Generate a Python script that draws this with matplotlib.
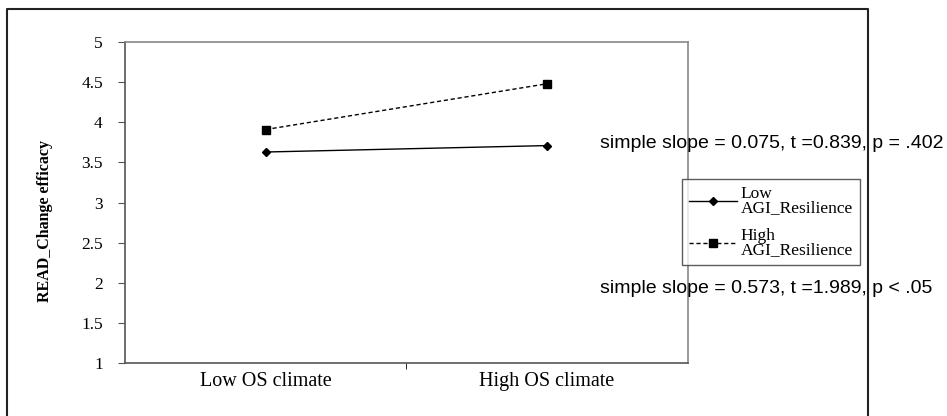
import numpy as np
from matplotlib import pyplot as plt

categories = ['Low OS climate', 'High OS climate']
low_resilience = [3.63, 3.71]
high_resilience = [3.91, 4.48]
yticks = [1, 1.5, 2, 2.5, 3, 3.5, 4, 4.5, 5]
ytick_labels = ['1', '1.5', '2', '2.5', '3', '3.5', '4', '4.5', '5']
slope_low = 'simple slope = 0.075, t =0.839, p = .402'
slope_high = 'simple slope = 0.573, t =1.989, p < .05'

serif = 'Liberation Serif'
sans = 'Liberation Sans'

fig = plt.figure(figsize=(9.47, 4.16), dpi=100)
ax = fig.add_axes([0.132, 0.127, 0.594, 0.772])

x = np.arange(len(categories))
ax.plot(x, low_resilience, color='black', lw=1, marker='D', ms=4,
        label='Low\nAGI_Resilience')
ax.plot(x, high_resilience, color='black', lw=1, ls='--', dashes=(3, 2),
        marker='s', ms=5.5, label='High\nAGI_Resilience')

ax.set_xlim(-0.5, 1.5)
ax.set_ylim(1, 5)
ax.set_yticks(yticks)
ax.set_yticklabels(ytick_labels, fontfamily=serif, fontsize=12.5)
ax.set_xticks(x)
ax.set_xticklabels(categories, fontfamily=serif, fontsize=14.5)
ax.tick_params(axis='x', length=0, pad=6)
ax.set_xticks([0.5], minor=True)
ax.tick_params(axis='x', which='minor', length=4, color='black')
ax.tick_params(axis='y', length=5, width=0.8, color='#555555', pad=11)
for s in ax.spines.values():
    s.set_color('#888888')
    s.set_linewidth(1.2)
ax.spines['left'].set_color('#555555')
ax.spines['bottom'].set_color('#555555')

ax.set_ylabel('READ_Change efficacy', fontfamily=serif, fontsize=11.5,
              fontweight='bold')
ax.yaxis.set_label_coords(-0.128, 0.442)

leg = fig.legend(loc='upper left', bbox_to_anchor=(0.720, 0.570),
                 prop={'family': serif, 'size': 12.5}, frameon=True, fancybox=False,
                 edgecolor='#333333', handlelength=2.8, borderpad=0.4,
                 labelspacing=0.7, handletextpad=0.2, borderaxespad=0)
for t in leg.get_texts():
    t.set_linespacing(0.85)

fig.text(0.634, 0.656, slope_low, fontfamily=sans, fontsize=14, va='center')
fig.text(0.634, 0.307, slope_high, fontfamily=sans, fontsize=14, va='center')

# outer frame, open at the bottom
fig.add_artist(plt.Line2D([0.007, 0.007, 0.917, 0.917], [0.0, 0.978, 0.978, 0.0],
                          transform=fig.transFigure, color='#222222', lw=1.5))

fig.savefig('out.png', dpi=100)
